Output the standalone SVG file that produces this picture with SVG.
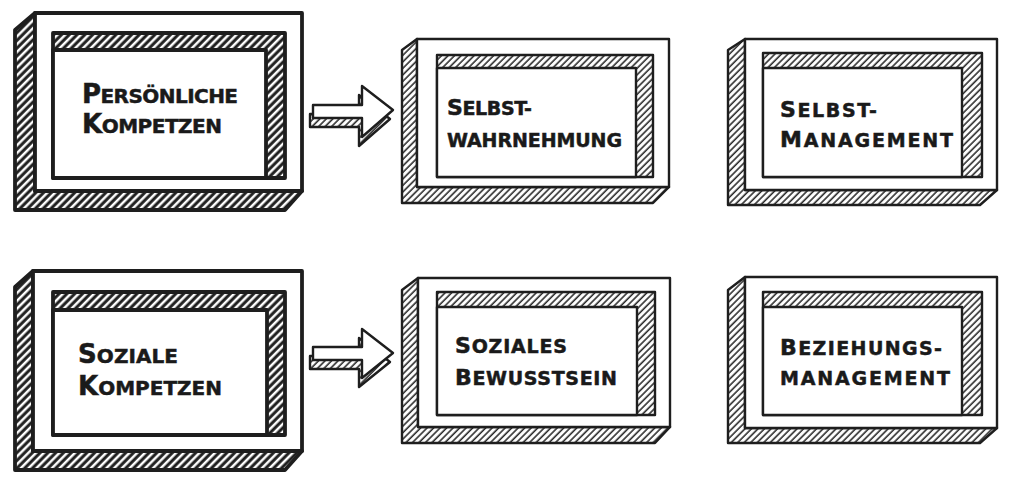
<svg xmlns="http://www.w3.org/2000/svg" width="1027" height="489" viewBox="0 0 1027 489">
<defs>
<pattern id="hd" width="5.5" height="5.5" patternUnits="userSpaceOnUse" patternTransform="rotate(45)"><line x1="2" y1="-1" x2="2" y2="7" stroke="#1e1e1e" stroke-width="3"/></pattern>
<pattern id="hl" width="4.6" height="4.6" patternUnits="userSpaceOnUse" patternTransform="rotate(45)"><line x1="2" y1="-1" x2="2" y2="6" stroke="#2a2a2a" stroke-width="1.6"/></pattern>
<style>
.k{stroke:#1e1e1e;stroke-linejoin:round;stroke-linecap:round}
.thick{stroke-width:3.8}
.thin{stroke-width:2.4}
.w{fill:#fff}
.dk{fill:url(#hd)}
.lt{fill:url(#hl)}
text{font-family:"DejaVu Sans","Liberation Sans",sans-serif;font-weight:bold;text-transform:uppercase;fill:#1a1a1a;stroke:#1a1a1a;stroke-width:0.5}
.bt{font-size:20px}
.bt .c{font-size:26px}
.st{font-size:19px}
.st .c{font-size:22px}
</style>
</defs>
<rect width="1027" height="489" fill="#fff"/>

<g id="n-persoenliche">
<polygon class="k thick dk" points="35,13 15,30 15,210 285,210 302,191 35,191"/>
<rect class="k thick w" x="35" y="13" width="267" height="178"/>
<rect class="k thick dk" x="53" y="33" width="232" height="145"/>
<rect class="k thick w" x="53" y="50" width="213" height="128"/>
<text class="bt" x="82" y="103" textLength="156"><tspan class="c">P</tspan>ersönliche</text>
<text class="bt" x="82" y="133" textLength="140"><tspan class="c">K</tspan>ompetzen</text>
</g>

<g id="n-selbstwahrnehmung">
<polygon class="k thin lt" points="417,39 402,50 402,203 653,203 669,187 417,187"/>
<rect class="k thin w" x="417" y="39" width="252" height="148"/>
<rect class="k thin lt" x="437" y="55" width="216" height="122"/>
<rect class="k thin w" x="437" y="68" width="199" height="109"/>
<text class="st" x="447" y="115" textLength="85"><tspan class="c">S</tspan>elbst-</text>
<text class="st" x="447" y="147" textLength="175">wahrnehmung</text>
</g>

<g id="n-selbstmanagement">
<polygon class="k thin lt" points="745,39 728,50 728,205 980,205 997,190 745,190"/>
<rect class="k thin w" x="745" y="39" width="252" height="151"/>
<rect class="k thin lt" x="763" y="53" width="219" height="124"/>
<rect class="k thin w" x="763" y="68" width="199" height="109"/>
<text class="st" x="780" y="117" textLength="97"><tspan class="c">S</tspan>elbst-</text>
<text class="st" x="780" y="147" textLength="173"><tspan class="c">M</tspan>anagement</text>
</g>

<g id="n-soziale">
<polygon class="k thick dk" points="33,271 15,287 15,470 285,470 302,451 33,451"/>
<rect class="k thick w" x="33" y="271" width="269" height="180"/>
<rect class="k thick dk" x="53" y="292" width="232" height="143"/>
<rect class="k thick w" x="53" y="310" width="214" height="125"/>
<text class="bt" x="78" y="363" textLength="100"><tspan class="c">S</tspan>oziale</text>
<text class="bt" x="78" y="395" textLength="144"><tspan class="c">K</tspan>ompetzen</text>
</g>

<g id="n-sozialesbewusstsein">
<polygon class="k thin lt" points="418,278 402,290 402,443 655,443 670,427 418,427"/>
<rect class="k thin w" x="418" y="278" width="252" height="149"/>
<rect class="k thin lt" x="437" y="292" width="218" height="123"/>
<rect class="k thin w" x="437" y="307" width="200" height="108"/>
<text class="st" x="455" y="353" textLength="112"><tspan class="c">S</tspan>oziales</text>
<text class="st" x="455" y="385" textLength="162"><tspan class="c">B</tspan>ewusstsein</text>
</g>

<g id="n-beziehungsmanagement">
<polygon class="k thin lt" points="745,277 728,290 728,443 980,443 997,428 745,428"/>
<rect class="k thin w" x="745" y="277" width="252" height="151"/>
<rect class="k thin lt" x="763" y="292" width="219" height="123"/>
<rect class="k thin w" x="763" y="307" width="199" height="108"/>
<text class="st" x="780" y="355" textLength="162"><tspan class="c">B</tspan>eziehungs-</text>
<text class="st" x="780" y="385" textLength="170">management</text>
</g>

<g id="connectors">
<g id="arrow-1">
<polygon class="k thin lt" points="310,114 359,114 359,95 390,119 359,146 359,127 310,127"/>
<polygon class="k thin w" points="313,105 362,105 362,86 393,110 362,137 362,118 313,118"/>
</g>
<g id="arrow-2">
<polygon class="k thin lt" points="310,356 359,356 359,338 390,362 359,387 359,369 310,369"/>
<polygon class="k thin w" points="313,347 362,347 362,329 393,353 362,378 362,360 313,360"/>
</g>
</g>
</svg>
